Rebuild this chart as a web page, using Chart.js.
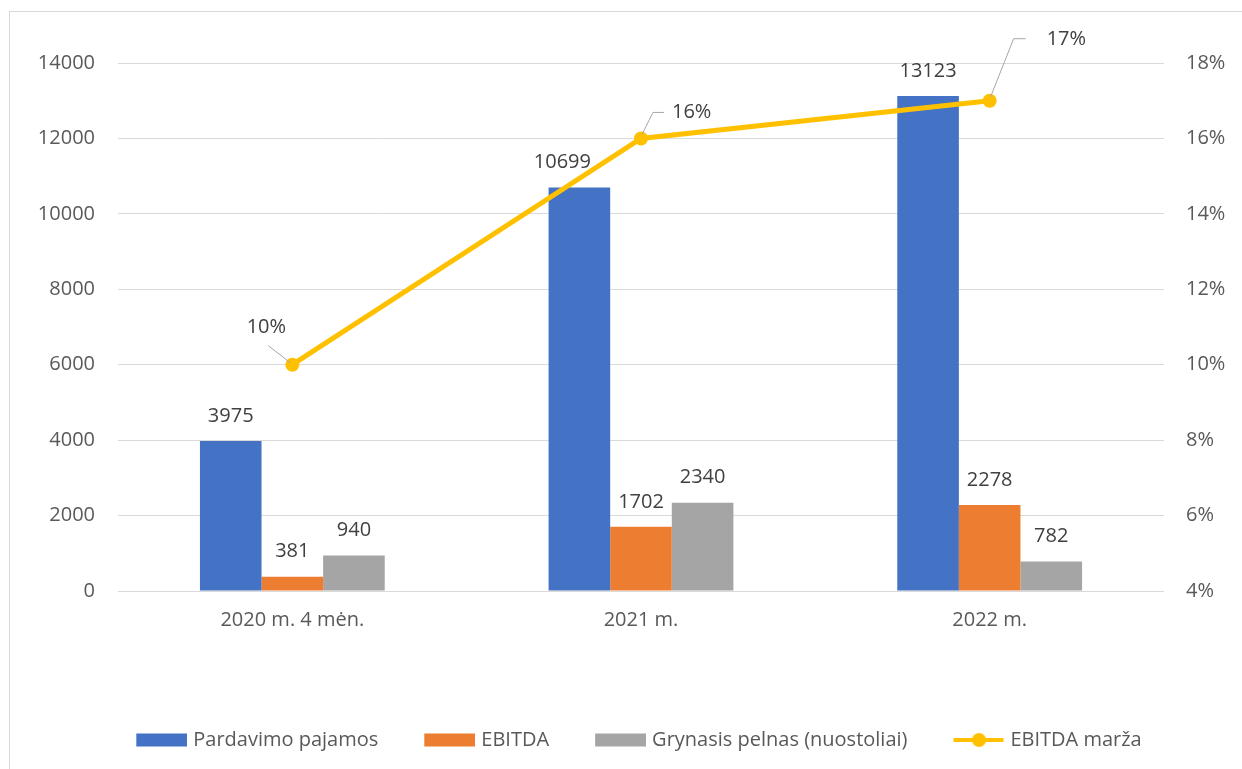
<!DOCTYPE html>
<html>
<head>
<meta charset="utf-8">
<script src="https://cdn.jsdelivr.net/npm/chart.js@4.4.1/dist/chart.umd.min.js"></script>
<style>
  html, body { margin: 0; padding: 0; background: #ffffff; }
  #wrap { position: relative; width: 1242px; height: 769px; }
</style>
</head>
<body>
<div id="wrap"><canvas id="c"></canvas></div>
<script>
// ---- data ----
const categories = ['2020 m. 4 mėn.', '2021 m.', '2022 m.'];
const seriesNames = ['Pardavimo pajamos', 'EBITDA', 'Grynasis pelnas (nuostoliai)', 'EBITDA marža'];
const pardavimoPajamos = [3975, 10699, 13123];
const ebitda = [381, 1702, 2278];
const grynasisPelnas = [940, 2340, 782];
const ebitdaMarza = [10, 16, 17];

// ---- styles ----
const FONT = '"Open Sans", sans-serif';
const FS = 20;
const colors = ['#4472C4', '#ED7D31', '#A5A5A5', '#FFC000'];
const TEXT = '#595959';
const LABEL = '#404040';

const LEG_W = 83;           // legend slot width
const IMG_W = LEG_W + 8;    // image overhangs slot by 4px each side
function legendBox(color, isLine) {
  const w = 51, h = 16;
  const cv = document.createElement('canvas');
  cv.width = IMG_W; cv.height = h;
  const ctx = cv.getContext('2d');
  const x0 = IMG_W - w;
  ctx.fillStyle = color;
  if (isLine) {
    ctx.strokeStyle = color; ctx.lineWidth = 4;
    ctx.beginPath(); ctx.moveTo(x0, h / 2); ctx.lineTo(x0 + w - 1, h / 2); ctx.stroke();
    ctx.beginPath(); ctx.arc(x0 + w / 2, h / 2, 7, 0, Math.PI * 2); ctx.fill();
  } else {
    ctx.fillRect(x0, 1.5, w, 13);
  }
  return cv;
}
const legendImages = colors.map((c, i) => legendBox(c, i === 3));

// bar label x-offsets (layout only)
const barLabelShift = [[0, 0, 0], [-17, 0, 0], [0, 0, 0]];
// percent label layout relative to the point (layout only)
const pctLayout = [
  { tx: -26, ty: -37, align: 'center', path: [[-2, -2], [-24, -19]] },
  { tx: 31, ty: -26, align: 'left', path: [[1, -4], [12, -26], [23, -26]] },
  { tx: 57, ty: -61, align: 'left', path: [[1, -4], [24, -62], [36, -62]] }
];

const borderPlugin = {
  id: 'outerBorder',
  beforeDraw(chart) {
    const ctx = chart.ctx;
    ctx.save();
    ctx.strokeStyle = '#d9d9d9';
    ctx.lineWidth = 1;
    ctx.strokeRect(9.5, 11.5, 1400, 900);
    ctx.restore();
  }
};

const labelPlugin = {
  id: 'valueLabels',
  afterDatasetsDraw(chart) {
    const ctx = chart.ctx;
    ctx.save();
    ctx.font = FS + 'px ' + FONT;
    ctx.fillStyle = LABEL;
    ctx.textBaseline = 'middle';
    for (let d = 0; d < 3; d++) {
      const meta = chart.getDatasetMeta(d);
      meta.data.forEach((el, i) => {
        const v = chart.data.datasets[d].data[i];
        ctx.textAlign = 'center';
        ctx.fillText(String(v), el.x + barLabelShift[i][d], el.y - 25);
      });
    }
    const lm = chart.getDatasetMeta(3);
    lm.data.forEach((el, i) => {
      const L = pctLayout[i];
      ctx.strokeStyle = '#a6a6a6';
      ctx.lineWidth = 1;
      ctx.beginPath();
      L.path.forEach((p, k) => {
        if (k === 0) ctx.moveTo(el.x + p[0], el.y + p[1]);
        else ctx.lineTo(el.x + p[0], el.y + p[1]);
      });
      ctx.stroke();
      ctx.textAlign = L.align;
      ctx.fillText(chart.data.datasets[3].data[i] + '%', el.x + L.tx, el.y + L.ty);
    });
    ctx.restore();
  }
};

const LEGEND_PAD_BOTTOM = 9;

new Chart(document.getElementById('c'), {
  type: 'bar',
  data: {
    labels: categories,
    datasets: [
      { label: seriesNames[0], data: pardavimoPajamos, backgroundColor: colors[0], yAxisID: 'y', order: 1,
        categoryPercentage: 0.53, barPercentage: 1.0 },
      { label: seriesNames[1], data: ebitda, backgroundColor: colors[1], yAxisID: 'y', order: 1,
        categoryPercentage: 0.53, barPercentage: 1.0 },
      { label: seriesNames[2], data: grynasisPelnas, backgroundColor: colors[2], yAxisID: 'y', order: 1,
        categoryPercentage: 0.53, barPercentage: 1.0 },
      { type: 'line', label: seriesNames[3], data: ebitdaMarza, yAxisID: 'y1', order: 0,
        borderColor: colors[3], backgroundColor: colors[3], borderWidth: 5,
        pointRadius: 7, pointHoverRadius: 7, pointBorderWidth: 0, tension: 0 }
    ]
  },
  options: {
    responsive: true,
    maintainAspectRatio: false,
    animation: false,
    layout: { padding: { top: 63, left: 0, right: 0, bottom: LEGEND_PAD_BOTTOM } },
    plugins: {
      tooltip: { enabled: false },
      legend: {
        position: 'bottom',
        labels: {
          font: { family: FONT, size: FS },
          color: TEXT,
          usePointStyle: true,
          pointStyleWidth: LEG_W,
          boxHeight: 14,
          padding: 10,
          generateLabels(chart) {
            const items = Chart.defaults.plugins.legend.labels.generateLabels(chart);
            items.sort((a, b) => a.datasetIndex - b.datasetIndex);
            items.forEach(it => { it.pointStyle = legendImages[it.datasetIndex]; });
            return items;
          }
        }
      }
    },
    scales: {
      x: {
        grid: { display: false },
        border: { display: false },
        ticks: { font: { family: FONT, size: FS }, color: TEXT, padding: 9 },
        afterFit(scale) {
          const lh = (scale.chart.legend && scale.chart.legend.height) || 44;
          scale.height = 769 - 591 - lh - LEGEND_PAD_BOTTOM;
        }
      },
      y: {
        position: 'left',
        min: 0, max: 14000,
        ticks: { stepSize: 2000, font: { family: FONT, size: FS }, color: TEXT, padding: 23,
          callback: v => String(v) },
        grid: { color: '#d9d9d9', lineWidth: 1, drawTicks: false },
        border: { display: false },
        afterFit(scale) { scale.width = 118; }
      },
      y1: {
        position: 'right',
        min: 4, max: 18,
        ticks: { stepSize: 2, font: { family: FONT, size: FS }, color: TEXT, padding: 22,
          callback: v => v + '%' },
        grid: { display: false, drawTicks: false },
        border: { display: false },
        afterFit(scale) { scale.width = 78; }
      }
    }
  },
  plugins: [borderPlugin, labelPlugin]
});
</script>
</body>
</html>
